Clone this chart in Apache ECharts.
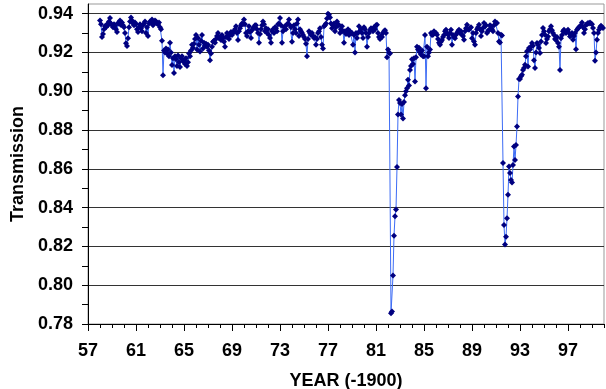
<!DOCTYPE html>
<html>
<head>
<meta charset="utf-8">
<script src="https://cdn.jsdelivr.net/npm/echarts@6/dist/echarts.min.js"></script>
<style>
  html, body { margin: 0; padding: 0; background: #fff; }
  #chart { width: 606px; height: 389px; }
</style>
</head>
<body>
<div id="chart"></div>
<script>
// monthly transmission values, Jan..Dec of each year
const trans1958_1963 = [
  0.9365, 0.9345, 0.9280, 0.9295, 0.9320, 0.9335, 0.9330, 0.9345, 0.9340, 0.9360, 0.9378, 0.9350,
  0.9340, 0.9330, 0.9345, 0.9338, 0.9320, 0.9305, 0.9352, 0.9348, 0.9365, 0.9342, 0.9355, 0.9340,
  0.9330, 0.9300, 0.9248, 0.9234, 0.9274, 0.9330, 0.9360, 0.9380, 0.9365, 0.9350, 0.9340, 0.9355,
  0.9345, 0.9320, 0.9305, 0.9330, 0.9345, 0.9325, 0.9310, 0.9340, 0.9350, 0.9360, 0.9300, 0.9330,
  0.9285, 0.9350, 0.9360, 0.9355, 0.9370, 0.9340, 0.9350, 0.9365, 0.9360, 0.9350, 0.9345, 0.9355,
  0.9330, 0.9320, 0.9260, 0.9083, 0.9210, 0.9200, 0.9220, 0.9195, 0.9215, 0.9180, 0.9250, 0.9200
];
const trans1964_1969 = [
  0.9135, 0.9170, 0.9094, 0.9180, 0.9165, 0.9130, 0.9185, 0.9150, 0.9125, 0.9170, 0.9180, 0.9155,
  0.9160, 0.9140, 0.9170, 0.9130, 0.9150, 0.9195, 0.9180, 0.9210, 0.9240, 0.9225, 0.9245, 0.9270,
  0.9290, 0.9215, 0.9275, 0.9240, 0.9205, 0.9260, 0.9290, 0.9220, 0.9250, 0.9235, 0.9245, 0.9230,
  0.9240, 0.9210, 0.9160, 0.9195, 0.9230, 0.9255, 0.9260, 0.9250, 0.9270, 0.9285, 0.9300, 0.9275,
  0.9280, 0.9265, 0.9290, 0.9275, 0.9255, 0.9230, 0.9280, 0.9300, 0.9285, 0.9270, 0.9290, 0.9305,
  0.9290, 0.9300, 0.9310, 0.9320, 0.9335, 0.9300, 0.9265, 0.9310, 0.9325, 0.9340, 0.9350, 0.9345
];
const trans1970_1975 = [
  0.9370, 0.9345, 0.9300, 0.9285, 0.9310, 0.9335, 0.9305, 0.9275, 0.9315, 0.9325, 0.9330, 0.9340,
  0.9340, 0.9320, 0.9300, 0.9250, 0.9295, 0.9320, 0.9340, 0.9360, 0.9345, 0.9310, 0.9325, 0.9300,
  0.9320, 0.9290, 0.9275, 0.9250, 0.9310, 0.9320, 0.9300, 0.9330, 0.9325, 0.9310, 0.9345, 0.9350,
  0.9378, 0.9340, 0.9250, 0.9310, 0.9330, 0.9335, 0.9320, 0.9345, 0.9350, 0.9370, 0.9340, 0.9330,
  0.9255, 0.9300, 0.9340, 0.9320, 0.9300, 0.9350, 0.9370, 0.9285, 0.9320, 0.9310, 0.9300, 0.9290,
  0.9280, 0.9270, 0.9245, 0.9180, 0.9270, 0.9310, 0.9300, 0.9290, 0.9300, 0.9285, 0.9275, 0.9280
];
const trans1976_1981 = [
  0.9240, 0.9270, 0.9300, 0.9310, 0.9325, 0.9280, 0.9240, 0.9220, 0.9335, 0.9340, 0.9350, 0.9375,
  0.9400, 0.9395, 0.9380, 0.9350, 0.9325, 0.9340, 0.9350, 0.9310, 0.9330, 0.9360, 0.9345, 0.9340,
  0.9300, 0.9320, 0.9335, 0.9310, 0.9250, 0.9310, 0.9295, 0.9300, 0.9320, 0.9290, 0.9310, 0.9300,
  0.9300, 0.9240, 0.9290, 0.9200, 0.9300, 0.9275, 0.9300, 0.9335, 0.9310, 0.9320, 0.9300, 0.9275,
  0.9330, 0.9320, 0.9300, 0.9230, 0.9280, 0.9300, 0.9315, 0.9325, 0.9320, 0.9310, 0.9330, 0.9320,
  0.9340, 0.9343, 0.9300, 0.9280, 0.9270, 0.9285, 0.9280, 0.9300, 0.9310, 0.9315, 0.9300, 0.9175
];
const trans1982_1987 = [
  0.9215, 0.9200, 0.9195, 0.7855, 0.7865, 0.8050, 0.8255, 0.8355, 0.8390, 0.8610, 0.8880, 0.8955,
  0.8940, 0.8880, 0.8935, 0.8860, 0.8945, 0.8980, 0.9000, 0.9015, 0.9060, 0.9030, 0.9110, 0.9130,
  0.9165, 0.9140, 0.9170, 0.9050, 0.9175, 0.9230, 0.9215, 0.9225, 0.9200, 0.9190, 0.9210, 0.9180,
  0.9180, 0.9290, 0.9015, 0.9230, 0.9180, 0.9200, 0.9215, 0.9300, 0.9290, 0.9292, 0.9310, 0.9300,
  0.9300, 0.9292, 0.9270, 0.9250, 0.9240, 0.9255, 0.9265, 0.9280, 0.9290, 0.9310, 0.9317, 0.9300,
  0.9292, 0.9275, 0.9300, 0.9317, 0.9240, 0.9290, 0.9280, 0.9274, 0.9292, 0.9300, 0.9309, 0.9317
];
const trans1988_1993 = [
  0.9300, 0.9310, 0.9292, 0.9285, 0.9266, 0.9310, 0.9325, 0.9343, 0.9320, 0.9317, 0.9326, 0.9330,
  0.9274, 0.9300, 0.9257, 0.9240, 0.9300, 0.9320, 0.9330, 0.9343, 0.9320, 0.9285, 0.9310, 0.9326,
  0.9352, 0.9335, 0.9340, 0.9300, 0.9310, 0.9317, 0.9340, 0.9335, 0.9320, 0.9309, 0.9340, 0.9360,
  0.9350, 0.9352, 0.9300, 0.9257, 0.9252, 0.9292, 0.9288, 0.8630, 0.8310, 0.8210, 0.8250, 0.8345,
  0.8466, 0.8612, 0.8578, 0.8543, 0.8530, 0.8620, 0.8715, 0.8646, 0.8723, 0.8818, 0.8973, 0.9063,
  0.9063, 0.9077, 0.9085, 0.9110, 0.9120, 0.9137, 0.9180, 0.9206, 0.9128, 0.9223, 0.9215, 0.9231
];
const trans1994_1999 = [
  0.9249, 0.9235, 0.9160, 0.9120, 0.9200, 0.9249, 0.9240, 0.9223, 0.9197, 0.9257, 0.9290, 0.9326,
  0.9310, 0.9292, 0.9249, 0.9270, 0.9283, 0.9309, 0.9320, 0.9335, 0.9315, 0.9300, 0.9290, 0.9270,
  0.9265, 0.9280, 0.9249, 0.9230, 0.9110, 0.9274, 0.9290, 0.9309, 0.9317, 0.9305, 0.9300, 0.9310,
  0.9317, 0.9300, 0.9283, 0.9290, 0.9300, 0.9266, 0.9285, 0.9300, 0.9217, 0.9317, 0.9325, 0.9330,
  0.9335, 0.9340, 0.9355, 0.9330, 0.9300, 0.9320, 0.9343, 0.9345, 0.9352, 0.9350, 0.9355, 0.9350,
  0.9345, 0.9326, 0.9300, 0.9157, 0.9200, 0.9266, 0.9300, 0.9317, 0.9330, 0.9338, 0.9330, 0.9326
];
const blocks = [
  [58, trans1958_1963], [64, trans1964_1969], [70, trans1970_1975],
  [76, trans1976_1981], [82, trans1982_1987], [88, trans1988_1993], [94, trans1994_1999]
];

// tick labels
const yearLabels = [57, 61, 65, 69, 73, 77, 81, 85, 89, 93, 97];
const yearMinor = [58, 59, 60, 62, 63, 64, 66, 67, 68, 70, 71, 72, 74, 75, 76, 78, 79, 80,
  82, 83, 84, 86, 87, 88, 90, 91, 92, 94, 95, 96, 98, 99, 100];
const transLabels = [0.78, 0.80, 0.82, 0.84, 0.86, 0.88, 0.90, 0.92, 0.94];
const transMinor = [0.79, 0.81, 0.83, 0.85, 0.87, 0.89, 0.91, 0.93];

let points = [];
blocks.forEach(b => {
  b[1].forEach((v, i) => {
    points.push([b[0] + i / 12, v]);
  });
});

const font = "'Liberation Sans', Arial, sans-serif";
const plot = { left: 88, right: 2, top: 4, bottom: 65, containLabel: false, outerBoundsMode: 'none' };
const chart = echarts.init(document.getElementById('chart'), null, { renderer: 'canvas' });

chart.setOption({
  animation: false,
  backgroundColor: '#fff',
  grid: [
    Object.assign({ show: true, borderColor: '#999', borderWidth: 1 }, plot),
    Object.assign({ show: false }, plot)   // only carries the minor ticks
  ],
  xAxis: [
    {
      gridIndex: 0, type: 'value', min: 57, max: 100, interval: 4,
      name: 'YEAR (-1900)', nameLocation: 'middle', nameGap: 48,
      nameTextStyle: { fontFamily: font, fontWeight: 'bold', fontSize: 18, color: '#000' },
      axisLine: { show: true, onZero: false, lineStyle: { color: '#000', width: 1 } },
      axisTick: { show: true, inside: false, length: 7, customValues: yearLabels, lineStyle: { color: '#000' } },
      axisLabel: {
        customValues: yearLabels, margin: 18,
        fontFamily: font, fontWeight: 'bold', fontSize: 18, color: '#000',
        formatter: v => String(v)
      },
      splitLine: { show: false }
    },
    {
      gridIndex: 1, type: 'value', min: 57, max: 100, position: 'bottom',
      axisLine: { show: false, onZero: false },
      axisTick: { show: true, inside: false, length: 4, customValues: yearMinor, lineStyle: { color: '#000' } },
      axisLabel: { show: false },
      splitLine: { show: false }
    }
  ],
  yAxis: [
    {
      gridIndex: 0, type: 'value', min: 0.78, max: 0.945, interval: 0.02,
      name: 'Transmission', nameLocation: 'middle', nameGap: 57, nameRotate: 90,
      nameTextStyle: { fontFamily: font, fontWeight: 'bold', fontSize: 18, color: '#000' },
      axisLine: { show: true, onZero: false, lineStyle: { color: '#000', width: 1 } },
      axisTick: { show: true, inside: false, length: 6, customValues: transLabels, lineStyle: { color: '#000' } },
      axisLabel: {
        customValues: transLabels, margin: 15,
        fontFamily: font, fontWeight: 'bold', fontSize: 18, color: '#000',
        formatter: v => v.toFixed(2)
      },
      splitLine: { show: true, lineStyle: { color: '#333', width: 1 } }
    },
    {
      gridIndex: 1, type: 'value', min: 0.78, max: 0.945, position: 'left',
      axisLine: { show: false, onZero: false },
      axisTick: { show: true, inside: false, length: 6, customValues: transMinor, lineStyle: { color: '#000' } },
      axisLabel: { show: false },
      splitLine: { show: false }
    }
  ],
  series: [
    {
      type: 'line',
      data: points,
      xAxisIndex: 0,
      yAxisIndex: 0,
      symbol: 'diamond',
      symbolSize: 6,
      showAllSymbol: true,
      itemStyle: { color: '#000080' },
      lineStyle: { color: '#3d6cf5', width: 1 },
      z: 5
    }
  ]
});
</script>
</body>
</html>
